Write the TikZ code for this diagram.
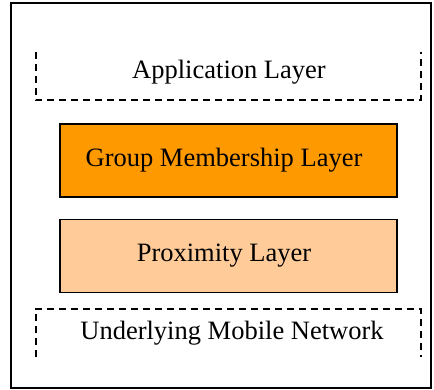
\documentclass[tikz,border=0pt]{standalone}
\usepackage{fontspec}
\setmainfont{Liberation Serif}
\usepackage{tikz}
\usetikzlibrary{shapes}
\definecolor{groupfill}{HTML}{FF9900}
\definecolor{proxfill}{HTML}{FFCC99}
\tikzstyle{layer} = [draw, line width=1.2pt, minimum width=337pt, minimum height=73pt, inner sep=0pt]
\tikzstyle{open} = [minimum width=385pt, minimum height=48pt, inner sep=0pt]
\tikzstyle{bracket} = [line width=1.5pt, dash pattern=on 7pt off 5pt]

\begin{document}
\begin{tikzpicture}[x=1pt, y=1pt, font=\fontsize{26.5}{31}\selectfont]

	\useasboundingbox (0, 0) rectangle (434, 390);

	% frame
	\draw [line width=1.4pt] (11, 2) rectangle (431, 387);

	% nodes
	\node[open] (App) at (228.5, 314) {};
	\node at (229, 318) {Application Layer};
	\node[layer, fill=groupfill] (GM) at (228.5, 229.5) {};
	\node at (224, 230) {Group Membership Layer};
	\node[layer, fill=proxfill] (Prox) at (228.5, 134) {};
	\node at (224, 134) {Proximity Layer};
	\node[open] (Net) at (228.5, 57) {};
	\node at (232, 57) {Underlying Mobile Network};

	% dashed brackets
	\draw [bracket] (App.north west) -- (App.south west) -- (App.south east) -- (App.north east);
	\draw [bracket] (Net.south west) -- (Net.north west) -- (Net.north east) -- (Net.south east);

\end{tikzpicture}
\end{document}
